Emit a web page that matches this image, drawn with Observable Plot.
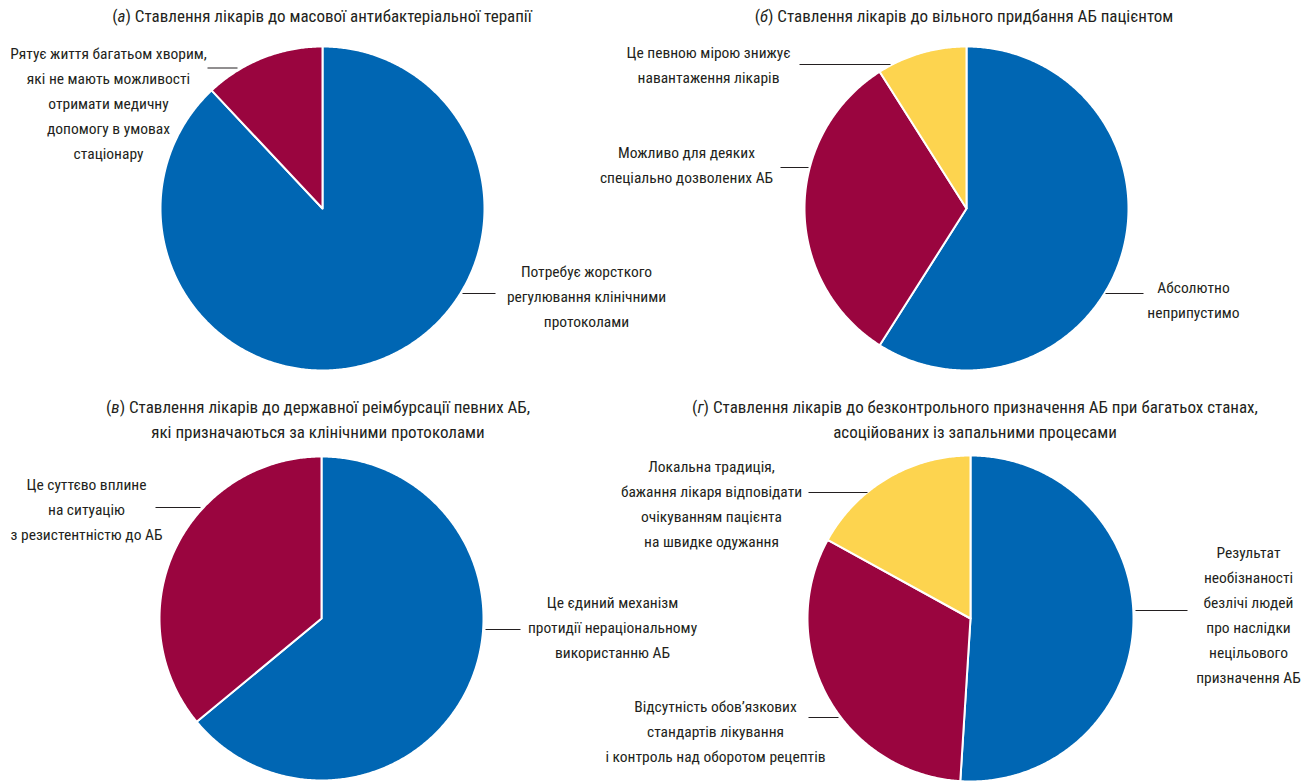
<!DOCTYPE html>
<html>
<head>
<meta charset="utf-8">
<script src="https://cdn.jsdelivr.net/npm/d3@7"></script>
<script src="https://cdn.jsdelivr.net/npm/@observablehq/plot@0.6"></script>
<style>
  html, body { margin: 0; padding: 0; background: #fff; }
  #page { position: relative; width: 1316px; height: 781px; overflow: hidden;
          font-family: Roboto Condensed, Liberation Sans Narrow, DejaVu Sans Condensed, sans-serif;
          color: #231f20; }
  .panel { position: absolute; }
  .panel svg text { font-family: Roboto Condensed, Liberation Sans Narrow, DejaVu Sans Condensed, sans-serif; }
  .title { position: absolute; text-align: center; font-size: 17px; line-height: 25px; white-space: nowrap; }
</style>
</head>
<body>
<div id="page"></div>
<script>
// ---------------- DATA ----------------
const titleA = ["(<i>а</i>) Ставлення лікарів до масової антибактеріальної терапії"];
const labelsA = [
  "Потребує жорсткого\nрегулювання клінічними\nпротоколами",
  "Рятує життя багатьом хворим,\nякі не мають можливості\nотримати медичну\nдопомогу в умовах\nстаціонару"
];
const valuesA = [88, 12];

const titleB = ["(<i>б</i>) Ставлення лікарів до вільного придбання АБ пацієнтом"];
const labelsB = [
  "Абсолютно\nнеприпустимо",
  "Можливо для деяких\nспеціально дозволених АБ",
  "Це певною мірою знижує\nнавантаження лікарів"
];
const valuesB = [59, 32, 9];

const titleC = ["(<i>в</i>) Ставлення лікарів до державної реімбурсації певних АБ,", "які призначаються за клінічними протоколами"];
const labelsC = [
  "Це єдиний механізм\nпротидії нераціональному\nвикористанню АБ",
  "Це суттєво вплине\nна ситуацію\nз резистентністю до АБ"
];
const valuesC = [64, 36];

const titleD = ["(<i>г</i>) Ставлення лікарів до безконтрольного призначення АБ при багатьох станах,", "асоційованих із запальними процесами"];
const labelsD = [
  "Результат\nнеобізнаності\nбезлічі людей\nпро наслідки\nнецільового\nпризначення АБ",
  "Відсутність обов’язкових\nстандартів лікування\nі контроль над оборотом рецептів",
  "Локальна традиція,\nбажання лікаря відповідати\nочікуванням пацієнта\nна швидке одужання"
];
const valuesD = [51, 32, 17];

// ---------------- STYLE / LAYOUT ----------------
const sliceColors = ["#0066b3", "#9a053f", "#fdd44f"];
const ink = "#231f20";
const fontStack = "Roboto Condensed, Liberation Sans Narrow, DejaVu Sans Condensed, sans-serif";
const labelSize = 15.5;

const layout = [
  { title: titleA, labels: labelsA, values: valuesA,
    box: {ox: 0, oy: 0, w: 658, h: 390}, center: {cx: 322, cy: 208, r: 162},
    titlePos: {x: 322, top: 4},
    labelPos: [{x: 586, y: 296}, {x: 108, y: 103.5}],
    leaders: [{x1: 462, x2: 495, y: 293}, {x1: 207, x2: 237, y: 67.5}] },
  { title: titleB, labels: labelsB, values: valuesB,
    box: {ox: 658, oy: 0, w: 658, h: 390}, center: {cx: 966, cy: 208, r: 162},
    titlePos: {x: 964, top: 4},
    labelPos: [{x: 1193, y: 299.5}, {x: 686, y: 165}, {x: 708, y: 65}],
    leaders: [{x1: 1105, x2: 1143, y: 293}, {x1: 780, x2: 808, y: 167}, {x1: 799, x2: 890, y: 64}] },
  { title: titleC, labels: labelsC, values: valuesC,
    box: {ox: 0, oy: 390, w: 658, h: 391}, center: {cx: 321, cy: 618, r: 162},
    titlePos: {x: 318, top: 394.5},
    labelPos: [{x: 612, y: 627.5}, {x: 86, y: 509}],
    leaders: [{x1: 485, x2: 520, y: 629}, {x1: 155, x2: 200, y: 507}] },
  { title: titleD, labels: labelsD, values: valuesD,
    box: {ox: 658, oy: 390, w: 658, h: 391}, center: {cx: 970, cy: 618, r: 163},
    titlePos: {x: 975, top: 394.5},
    labelPos: [{x: 1248, y: 615}, {x: 715, y: 731}, {x: 711, y: 503.5}],
    leaders: [{x1: 1135, x2: 1187, y: 610}, {x1: 808, x2: 838, y: 717}, {x1: 808, x2: 867, y: 492}] }
];

// ---------------- DRAW ----------------
const page = document.getElementById("page");

function slicePolygons(values) {
  const pie = d3.pie().sort(null).value(d => d)(values);
  return pie.map((s, i) => {
    const n = Math.max(2, Math.ceil((s.endAngle - s.startAngle) / (Math.PI / 360)));
    const pts = [{x: 0, y: 0}];
    for (let k = 0; k <= n; k++) {
      const a = s.startAngle + (s.endAngle - s.startAngle) * k / n;
      pts.push({x: Math.sin(a), y: Math.cos(a)});
    }
    pts.push({x: 0, y: 0});
    return {i, pts};
  });
}

for (const p of layout) {
  const {ox, oy, w, h} = p.box;
  const {cx, cy, r} = p.center;
  const toX = px => (px - cx) / r;
  const toY = py => (cy - py) / r;

  const labelData = p.labels.map((t, i) => ({t, x: toX(p.labelPos[i].x), y: toY(p.labelPos[i].y)}));
  const leaderData = p.leaders.map(l => ({x1: toX(l.x1), x2: toX(l.x2), y: toY(l.y)}));

  const marks = slicePolygons(p.values).map(s =>
    Plot.line(s.pts, {x: "x", y: "y", fill: sliceColors[s.i], stroke: "white",
      strokeWidth: 2, strokeLinejoin: "round"}));
  marks.push(Plot.link(leaderData, {x1: "x1", x2: "x2", y1: "y", y2: "y", stroke: ink, strokeWidth: 1}));
  marks.push(Plot.text(labelData, {x: "x", y: "y", text: "t", textAnchor: "middle", dy: -3,
    lineHeight: 25 / labelSize, fontSize: labelSize, fontFamily: fontStack, fill: ink}));

  const svg = Plot.plot({
    width: w, height: h, margin: 0,
    x: {domain: [toX(ox), toX(ox + w)], axis: null},
    y: {domain: [toY(oy + h), toY(oy)], axis: null},
    style: {background: "transparent", overflow: "visible", fontFamily: fontStack, fontSize: labelSize + "px"},
    marks
  });
  const holder = document.createElement("div");
  holder.className = "panel";
  holder.style.left = ox + "px"; holder.style.top = oy + "px";
  holder.style.width = w + "px"; holder.style.height = h + "px";
  holder.appendChild(svg);
  page.appendChild(holder);

  const t = document.createElement("div");
  t.className = "title";
  t.style.left = (p.titlePos.x - 400) + "px";
  t.style.width = "800px";
  t.style.top = p.titlePos.top + "px";
  t.innerHTML = p.title.join("<br>");
  page.appendChild(t);
}
</script>
</body>
</html>
